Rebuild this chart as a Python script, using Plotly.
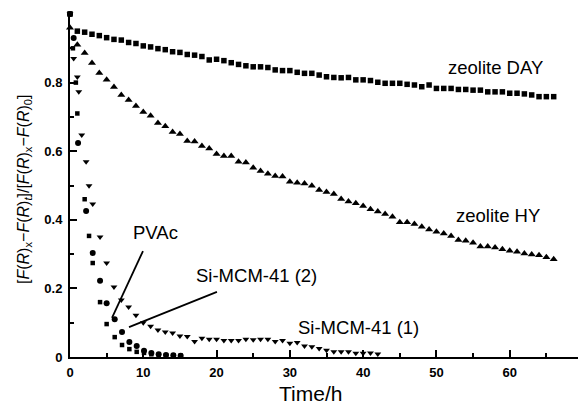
import plotly.graph_objects as go

# ---------------- data ----------------
day_t = list(range(0, 67))
day_v = [1.0, 0.950, 0.947, 0.941, 0.937, 0.931, 0.926, 0.924, 0.917, 0.914,
         0.907, 0.904, 0.899, 0.896, 0.890, 0.888, 0.882, 0.880, 0.876, 0.866,
         0.868, 0.864, 0.858, 0.853, 0.849, 0.846, 0.846, 0.844, 0.837, 0.835,
         0.835, 0.830, 0.827, 0.827, 0.822, 0.817, 0.815, 0.814, 0.815, 0.808,
         0.808, 0.806, 0.801, 0.798, 0.798, 0.798, 0.795, 0.793, 0.788, 0.793,
         0.783, 0.783, 0.783, 0.780, 0.780, 0.778, 0.778, 0.773, 0.773, 0.773,
         0.769, 0.769, 0.767, 0.764, 0.759, 0.759, 0.759]

hy_t = list(range(0, 67))
hy_v = [0.960, 0.910, 0.886, 0.857, 0.828, 0.808, 0.787, 0.764, 0.749, 0.732,
        0.714, 0.703, 0.682, 0.673, 0.656, 0.650, 0.630, 0.628, 0.615, 0.608,
        0.592, 0.586, 0.586, 0.569, 0.567, 0.552, 0.542, 0.534, 0.528, 0.526,
        0.511, 0.508, 0.506, 0.499, 0.487, 0.481, 0.475, 0.461, 0.453, 0.448,
        0.440, 0.431, 0.424, 0.417, 0.409, 0.393, 0.393, 0.388, 0.380, 0.372,
        0.365, 0.360, 0.353, 0.341, 0.339, 0.333, 0.322, 0.322, 0.319, 0.314,
        0.310, 0.307, 0.302, 0.299, 0.297, 0.291, 0.285]

mcm1_t = [0, 0.5, 1.0, 1.2, 1.6, 2.2, 2.6, 3.1, 4.1, 5, 6, 7, 8, 9, 10, 11, 12,
          13, 14, 15, 16, 17, 18, 19, 20, 21, 22, 23, 24, 25, 26, 27, 28, 29,
          30, 31, 32, 33, 34, 35, 36, 37, 38, 39, 40, 41, 42]
mcm1_v = [1.0, 0.870, 0.816, 0.773, 0.647, 0.569, 0.499, 0.446, 0.350, 0.274,
          0.204, 0.166, 0.146, 0.122, 0.100, 0.090, 0.079, 0.073, 0.070, 0.061,
          0.060, 0.045, 0.055, 0.052, 0.052, 0.048, 0.048, 0.048, 0.052, 0.050,
          0.052, 0.052, 0.045, 0.048, 0.040, 0.042, 0.032, 0.030, 0.025, 0.020,
          0.015, 0.015, 0.015, 0.011, 0.011, 0.012, 0.009]

pvac_t = [0, 0.5, 1.1, 2.2, 3.1, 4.1, 5.0, 6.1, 7.1, 8.1, 9.1, 10.1, 11.1,
          12.1, 13.1, 14.1, 15.1]
pvac_v = [1.0, 0.930, 0.624, 0.426, 0.303, 0.222, 0.157, 0.110, 0.073, 0.044,
          0.032, 0.018, 0.012, 0.008, 0.006, 0.005, 0.004]

mcm2_t = [0, 0.4, 0.8, 1.0, 2.0, 2.6, 3.1, 4.1, 5.0, 6.1, 7.1, 8.1, 9.1, 10.1,
          11.1, 12.1, 13.1, 14.1, 15.1]
mcm2_v = [1.0, 0.900, 0.800, 0.710, 0.460, 0.353, 0.274, 0.160, 0.096, 0.058,
          0.035, 0.023, 0.015, 0.012, 0.008, 0.006, 0.005, 0.005, 0.004]

x_ticks = [0, 10, 20, 30, 40, 50, 60, 70]
y_ticks = [0, 0.2, 0.4, 0.6, 0.8, 1.0]
y_ticktext = ["0", "0.2", "0.4", "0.6", "0.8", ""]

FONT = "Liberation Sans, Arial, sans-serif"

fig = go.Figure()

def add(t, v, symbol, size, name):
    fig.add_trace(go.Scatter(
        x=t, y=v, mode="markers", name=name, cliponaxis=False,
        marker=dict(symbol=symbol, size=size, color="black",
                    line=dict(width=0))))

add(day_t, day_v, "square", 5.5, "zeolite DAY")
add(hy_t, hy_v, "triangle-up", 7, "zeolite HY")
add(mcm1_t, mcm1_v, "triangle-down", 6, "Si-MCM-41 (1)")
add(pvac_t, pvac_v, "circle", 6, "PVAc")
add(mcm2_t, mcm2_v, "square", 4.5, "Si-MCM-41 (2)")

# pointer lines
fig.add_shape(type="line", x0=9.96, y0=0.309, x1=5.73, y1=0.114,
              line=dict(color="black", width=1.8))
fig.add_shape(type="line", x0=20.05, y0=0.190, x1=8.05, y1=0.087,
              line=dict(color="black", width=1.8))

labels = [("PVAc", 11.6, 0.362), ("Si-MCM-41 (2)", 25.5, 0.239),
          ("Si-MCM-41 (1)", 39.3, 0.087), ("zeolite HY", 58.4, 0.414),
          ("zeolite DAY", 58.0, 0.845)]
for txt, x, y in labels:
    fig.add_annotation(x=x, y=y, text=txt, showarrow=False,
                       font=dict(family=FONT, size=18.5, color="black"),
                       xanchor="center", yanchor="middle")

# axis titles (positions relative to the plot area)
fig.add_annotation(xref="paper", yref="paper", x=(310 - 70) / 513,
                   y=(357 - 393) / 343, text="Time/h", showarrow=False,
                   font=dict(family=FONT, size=21, color="black"),
                   xanchor="center", yanchor="middle")
fig.add_annotation(xref="paper", yref="paper", x=(24 - 70) / 513,
                   y=(357 - 190) / 343, textangle=-90,
                   text="[<i>F</i>(<i>R</i>)<sub>x</sub>\u2212<i>F</i>(<i>R</i>)<sub><i>t</i></sub>]/"
                        "[<i>F</i>(<i>R</i>)<sub>x</sub>\u2212<i>F</i>(<i>R</i>)<sub>0</sub>]",
                   showarrow=False,
                   font=dict(family=FONT, size=16, color="black"),
                   xanchor="center", yanchor="middle")

fig.update_xaxes(range=[0, 70], tickvals=x_ticks, ticks="inside", ticklen=7,
                 tickwidth=1.5, tickcolor="black", showline=True,
                 linecolor="black", linewidth=2, showgrid=False, zeroline=False,
                 minor=dict(ticks="inside", ticklen=4, dtick=5, tick0=0,
                            tickcolor="black", tickwidth=1.5, showgrid=False),
                 tickfont=dict(family=FONT, size=13, color="black", weight="bold"),
                 ticklabelstandoff=2)
fig.update_yaxes(range=[0, 1.0], tickvals=y_ticks, ticktext=y_ticktext,
                 ticks="inside", ticklen=7, tickwidth=1.5, tickcolor="black",
                 showline=True, linecolor="black", linewidth=2, showgrid=False,
                 zeroline=False,
                 minor=dict(ticks="inside", ticklen=4, dtick=0.1, tick0=0,
                            tickcolor="black", tickwidth=1.5, showgrid=False),
                 tickfont=dict(family=FONT, size=13, color="black", weight="bold"),
                 ticklabelstandoff=3)

# the page adds an 8px body margin, so the figure is 8px smaller
fig.update_layout(width=578, height=399, showlegend=False,
                  paper_bgcolor="white", plot_bgcolor="white",
                  margin=dict(l=62, r=3, t=6, b=50))

fig.write_html("out.html")
